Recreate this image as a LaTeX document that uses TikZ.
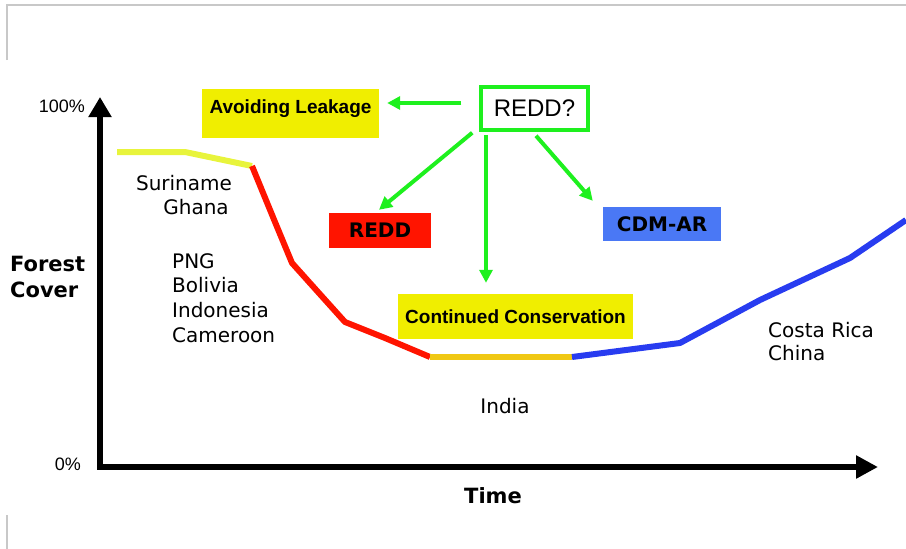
\documentclass[tikz,border=0pt]{standalone}
\usepackage{fontspec}
\usetikzlibrary{arrows.meta}
\newfontfamily\djv{DejaVu Sans}
\newfontfamily\lib{Liberation Sans}
\definecolor{boxyel}{RGB}{240,238,0}
\definecolor{lineyel}{RGB}{232,244,60}
\definecolor{linegold}{RGB}{240,200,20}
\definecolor{linered}{RGB}{255,20,0}
\definecolor{lineblue}{RGB}{40,60,240}
\definecolor{boxblue}{RGB}{74,120,245}
\definecolor{grn}{RGB}{30,240,30}
\definecolor{framegray}{RGB}{200,200,200}
\tikzset{
  curve/.style={line width=6pt,line join=round},
  country/.style={font=\djv\fontsize{20}{24}\selectfont,inner sep=0pt,anchor=west},
  axislbl/.style={font=\djv\bfseries\fontsize{21}{25}\selectfont,inner sep=0pt},
  pct/.style={font=\lib\fontsize{18}{22}\selectfont,inner sep=0pt},
  ybox/.style={fill=boxyel,inner sep=0pt,font=\lib\bfseries\fontsize{19}{23}\selectfont},
  gbox/.style={fill=#1,inner sep=0pt,font=\djv\bfseries\fontsize{20}{24}\selectfont},
  garrow/.style={draw=grn,line width=4pt,-{Triangle[length=13pt,width=13pt]}},
}
\begin{document}
\begin{tikzpicture}[x=1pt,y=-1pt]
\useasboundingbox (0,0) rectangle (906,549);
% frame remnants
\draw[framegray,line width=1.2pt] (7,60) -- (7,5) -- (906,5);
\draw[framegray,line width=1.2pt] (7,515) -- (7,549);
% axes
\draw[line width=6pt,{Triangle[length=20pt,width=22pt]}-{Triangle[length=22pt,width=22pt]}] (100,97) -- (100,467) -- (878,467);
% curves
\draw[curve,lineyel] (117,152) -- (185,152) -- (252,166);
\draw[curve,linered] (252,166) -- (275,222) -- (292,263) -- (318,292) -- (345,322) -- (385,338) -- (430,357);
\draw[curve,linegold] (430,357) -- (572,357);
\draw[curve,lineblue] (572,357) -- (680,343) -- (760,300) -- (850,258) -- (906,220);
% axis labels
\node[pct,anchor=east] (p100) at (85,106) {100\%};
\node[pct,anchor=east] (p0) at (81,464) {0\%};
\node[axislbl,anchor=west] (forest) at (10,264) {Forest};
\node[axislbl,anchor=west] (cover) at (10,290) {Cover};
\node[axislbl] (time) at (493,496) {Time};
% country labels
\node[country,anchor=center] (sur) at (184,183) {Suriname};
\node[country,anchor=center] (gha) at (196,207) {Ghana};
\node[country] (png) at (172,261) {PNG};
\node[country] (bol) at (172,285) {Bolivia};
\node[country] (ind) at (172,310) {Indonesia};
\node[country] (cam) at (172,335) {Cameroon};
\node[country,anchor=center] (india) at (505,406) {India};
\node[country] (cr) at (768,330) {Costa Rica};
\node[country] (chn) at (768,353) {China};
% boxes
\node[ybox,minimum width=177pt,text height=24.5pt,text depth=24.5pt] (leak) at (290.5,113.5) {Avoiding Leakage};
\node[draw=grn,line width=3.5pt,fill=white,minimum width=107pt,minimum height=43pt,inner sep=0pt,font=\lib\fontsize{24}{28}\selectfont] (ask) at (534.5,108.5) {REDD?};
\node[gbox=linered,minimum width=102pt,minimum height=35pt] (redd) at (380,230) {REDD};
\node[gbox=boxblue,minimum width=118pt,minimum height=34pt] (cdm) at (662,224) {CDM-AR};
\node[ybox,minimum width=235pt,minimum height=45pt] (cons) at (515.5,316.5) {Continued Conservation};
% arrows
\draw[garrow] ([xshift=-18pt,yshift=5.5pt]ask.west) -- ([xshift=8pt,yshift=10.5pt]leak.east);
\draw[garrow] ([xshift=-7pt,yshift=-1pt]ask.south west) -- ([xshift=-1pt,yshift=2.5pt]redd.north);
\draw[garrow] ([xshift=-48.5pt,yshift=-3pt]ask.south) -- ([xshift=-29.5pt,yshift=11pt]cons.north);
\draw[garrow] ([xshift=1.5pt,yshift=-4pt]ask.south) -- ([xshift=-10pt,yshift=6pt]cdm.north west);
\end{tikzpicture}
\end{document}
